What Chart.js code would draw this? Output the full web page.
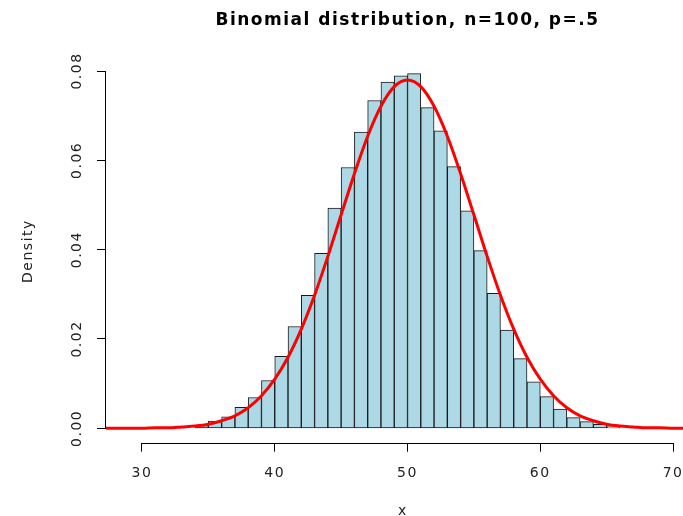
<!DOCTYPE html>
<html>
<head>
<meta charset="utf-8">
<script src="https://cdn.jsdelivr.net/npm/chart.js@4"></script>
<style>
  html, body { margin: 0; padding: 0; overflow: hidden; background: #fff; }
</style>
</head>
<body>
<canvas id="myChart" width="815" height="516"></canvas>
<script>
// histogram bins (left edge of each 1-wide bin) and their densities
const binStart = [34, 35, 36, 37, 38, 39, 40, 41, 42, 43, 44, 45, 46, 47, 48, 49,
                  50, 51, 52, 53, 54, 55, 56, 57, 58, 59, 60, 61, 62, 63, 64, 65];
const density = [0.0006, 0.0016, 0.0026, 0.0047, 0.0069, 0.0107, 0.0161, 0.0228,
                 0.0298, 0.0392, 0.0493, 0.0584, 0.0663, 0.0734, 0.0775, 0.0789,
                 0.0794, 0.0718, 0.0666, 0.0586, 0.0487, 0.0398, 0.0302, 0.0220,
                 0.0156, 0.0104, 0.0071, 0.0043, 0.0024, 0.0015, 0.0009, 0.0004];

// red density curve at whole x values
const curveX = [27, 28, 29, 30, 31, 32, 33, 34, 35, 36, 37, 38, 39, 40, 41, 42, 43, 44, 45,
                46, 47, 48, 49, 50, 51, 52, 53, 54, 55, 56, 57, 58, 59, 60, 61, 62, 63,
                64, 65, 66, 67, 68, 69, 70, 71, 72];
const curveY = [0, 0, 0, 0, 0.0001, 0.0001, 0.0003, 0.0005, 0.0009, 0.0017, 0.0028, 0.0046,
                0.0073, 0.0110, 0.0159, 0.0222, 0.0298, 0.0385, 0.0478, 0.0570, 0.0654,
                0.0721, 0.0765, 0.0780, 0.0765, 0.0721, 0.0654, 0.0570, 0.0478, 0.0385,
                0.0298, 0.0222, 0.0159, 0.0110, 0.0073, 0.0046, 0.0028, 0.0017, 0.0009,
                0.0005, 0.0003, 0.0001, 0.0001, 0, 0, 0];

const xTicks = [30, 40, 50, 60, 70];
const yTicks = [0, 0.02, 0.04, 0.06, 0.08];

const FONT = 'DejaVu Sans, Liberation Sans, Arial, sans-serif';

// the R device draws text a bit wider than the fonts we have
const wideText = {
  id: 'wideText',
  beforeLayout(chart) { chart.ctx.letterSpacing = '1.5px'; },
  beforeDraw(chart) { chart.ctx.letterSpacing = '1.5px'; }
};

// R-style axis lines that only span the first..last tick
const rAxes = {
  id: 'rAxes',
  afterDraw(chart) {
    const {ctx, scales: {x, y}} = chart;
    ctx.save();
    ctx.strokeStyle = '#000';
    ctx.lineWidth = 1;
    ctx.beginPath();
    const yb = Math.round(x.top) + 0.5;
    ctx.moveTo(x.getPixelForValue(xTicks[0]), yb);
    ctx.lineTo(x.getPixelForValue(xTicks[xTicks.length - 1]), yb);
    const xl = Math.round(y.right) - 0.5;
    ctx.moveTo(xl, y.getPixelForValue(yTicks[0]));
    ctx.lineTo(xl, y.getPixelForValue(yTicks[yTicks.length - 1]));
    ctx.stroke();
    ctx.restore();
  }
};

const ctx = document.getElementById('myChart');

new Chart(ctx, {
  type: 'bar',
  data: {
    datasets: [{
      type: 'line',
      data: curveX.map((v, i) => ({x: v, y: curveY[i]})),
      borderColor: '#ff0000',
      borderWidth: 3,
      pointRadius: 0,
      fill: false,
      cubicInterpolationMode: 'monotone',
      order: 0
    }, {
      type: 'bar',
      data: binStart.map((v, i) => ({x: v + 0.5, y: density[i]})),
      backgroundColor: '#add8e6',
      borderColor: '#1a1a1a',
      borderWidth: 1,
      borderSkipped: false,
      barPercentage: 1,
      categoryPercentage: 1,
      order: 1
    }]
  },
  plugins: [wideText, rAxes],
  options: {
    responsive: false,
    animation: false,
    layout: {padding: {bottom: -4}},
    plugins: {
      legend: {display: false},
      tooltip: {enabled: false},
      title: {
        display: true,
        text: 'Binomial distribution, n=100, p=.5',
        color: '#000',
        font: {family: FONT, size: 17, weight: 'bold'},
        padding: {top: 10, bottom: 29}
      }
    },
    scales: {
      x: {
        type: 'linear',
        min: 27.29,
        max: 72.03,
        offset: false,
        afterBuildTicks: s => { s.ticks = xTicks.map(v => ({value: v})); },
        afterFit: s => { s.height = 77.3; },
        border: {display: false},
        grid: {offset: false, drawOnChartArea: false, drawTicks: true, tickLength: 9, color: '#000'},
        ticks: {color: '#222', font: {family: FONT, size: 14}, padding: 13, maxRotation: 0, autoSkip: false},
        title: {display: true, text: 'x', color: '#222', font: {family: FONT, size: 14}, padding: 0}
      },
      y: {
        type: 'linear',
        min: -0.00322,
        max: 0.0826,
        afterBuildTicks: s => { s.ticks = yTicks.map(v => ({value: v})); },
        afterFit: s => { s.width = 106; },
        border: {display: false},
        grid: {drawOnChartArea: false, drawTicks: true, tickLength: 9, color: '#000'},
        ticks: {
          color: '#222',
          font: {family: FONT, size: 14},
          padding: 1,
          minRotation: 90,
          maxRotation: 90,
          crossAlign: 'center',
          callback: v => Number(v).toFixed(2)
        },
        title: {display: true, text: 'Density', color: '#222', font: {family: FONT, size: 14}, padding: {top: 20, bottom: 0}}
      },
      yr: {
        type: 'linear',
        position: 'right',
        display: true,
        afterFit: s => { s.width = 115; },
        border: {display: false},
        grid: {display: false},
        ticks: {display: false}
      }
    }
  }
});
</script>
</body>
</html>
